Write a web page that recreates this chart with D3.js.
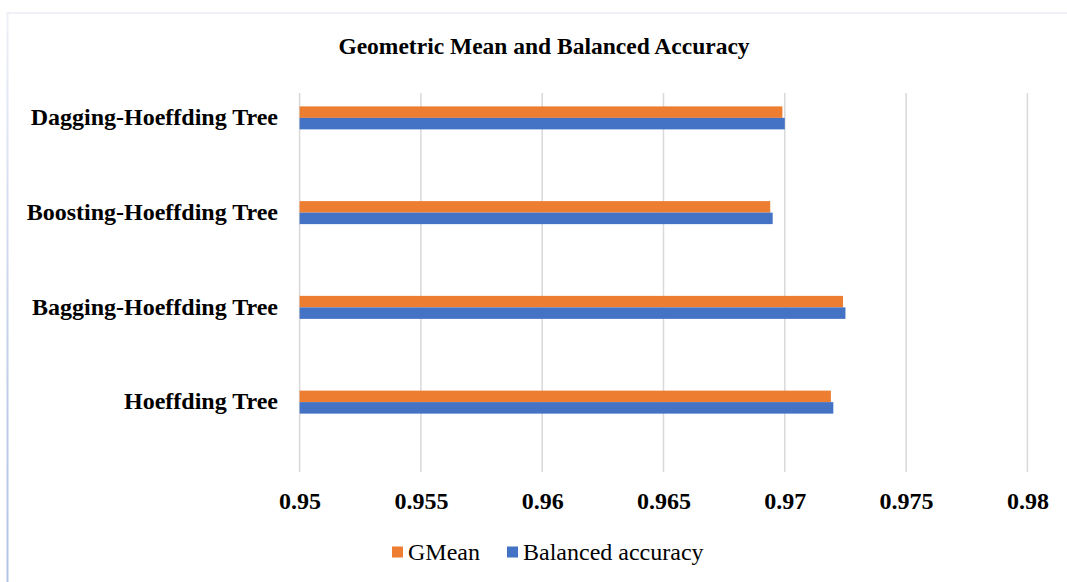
<!DOCTYPE html>
<html>
<head>
<meta charset="utf-8">
<script src="https://cdn.jsdelivr.net/npm/d3@7"></script>
<style>
  html, body { margin: 0; padding: 0; background: #ffffff; }
  svg { display: block; }
</style>
</head>
<body>
<script>
// Chart data
const categories = ["Dagging-Hoeffding Tree", "Boosting-Hoeffding Tree", "Bagging-Hoeffding Tree", "Hoeffding Tree"];
const gmean = [0.9699, 0.9694, 0.9724, 0.9719];
const balancedAccuracy = [0.9700, 0.9695, 0.9725, 0.9720];
const seriesNames = ["GMean", "Balanced accuracy"];
const seriesColors = ["#ED7D31", "#4472C4"];
const xTicks = [0.95, 0.955, 0.96, 0.965, 0.97, 0.975, 0.98];
const xTickLabels = ["0.95", "0.955", "0.96", "0.965", "0.97", "0.975", "0.98"];

const W = 1067, H = 582;
const serif = "'Liberation Serif', 'Times New Roman', serif";

const svg = d3.select("body").append("svg").attr("width", W).attr("height", H);

// Chart frame
const defs = svg.append("defs");
const grad = defs.append("linearGradient").attr("id", "frameLeft")
  .attr("x1", 0).attr("y1", 0).attr("x2", 0).attr("y2", 1);
grad.append("stop").attr("offset", "0%").attr("stop-color", "#eef0f8");
grad.append("stop").attr("offset", "60%").attr("stop-color", "#c3cfea");
grad.append("stop").attr("offset", "100%").attr("stop-color", "#b3c3e6");

svg.append("line").attr("x1", 7.5).attr("x2", W).attr("y1", 13).attr("y2", 13)
  .attr("stroke", "#eff0f8").attr("stroke-width", 2);
svg.append("rect").attr("x", 6.5).attr("y", 12).attr("width", 2).attr("height", H - 12)
  .attr("fill", "url(#frameLeft)");

// Scales
const x = d3.scaleLinear().domain([0.95, 0.98]).range([299.6, 1027.4]);
const y = d3.scaleBand().domain(categories).range([70.5, 449.5]);
const barH = 11.5;
const gridTop = 93, gridBottom = 472;

// Vertical gridlines
svg.append("g").selectAll("line").data(xTicks).join("line")
  .attr("x1", d => x(d)).attr("x2", d => x(d))
  .attr("y1", gridTop).attr("y2", gridBottom)
  .attr("stroke", "#d9d9d9").attr("stroke-width", 1.5);

// Bars
const series = [gmean, balancedAccuracy];
series.forEach((vals, si) => {
  svg.append("g").selectAll("rect").data(categories).join("rect")
    .attr("x", x(0.95))
    .attr("y", (c) => y(c) + y.bandwidth() / 2 - barH + si * barH)
    .attr("width", (c, i) => x(vals[i]) - x(0.95))
    .attr("height", barH)
    .attr("fill", seriesColors[si]);
});

// X axis tick labels
const xAxis = d3.axisBottom(x).tickValues(xTicks)
  .tickFormat((d, i) => xTickLabels[i]).tickSize(0).tickPadding(0);
const gx = svg.append("g").attr("transform", "translate(0, 492)").call(xAxis);
gx.select(".domain").remove();
gx.selectAll("text")
  .attr("font-family", serif).attr("font-weight", "bold").attr("font-size", 24)
  .attr("fill", "#000").attr("dy", "0.71em");

// Category labels
const yAxis = d3.axisLeft(y).tickSize(0).tickPadding(0);
const gy = svg.append("g").attr("transform", "translate(278, 0)").call(yAxis);
gy.select(".domain").remove();
gy.selectAll("text")
  .attr("font-family", serif).attr("font-weight", "bold").attr("font-size", 24)
  .attr("fill", "#000").attr("dy", "0.3em");

// Title
svg.append("text").attr("x", 544).attr("y", 54).attr("text-anchor", "middle")
  .attr("font-family", serif).attr("font-weight", "bold").attr("font-size", 23.5)
  .attr("fill", "#000").text("Geometric Mean and Balanced Accuracy");

// Legend
const legendItems = [{ name: seriesNames[0], color: seriesColors[0], x: 392 },
                     { name: seriesNames[1], color: seriesColors[1], x: 507 }];
const lg = svg.append("g");
legendItems.forEach(it => {
  lg.append("rect").attr("x", it.x).attr("y", 546.5).attr("width", 11).attr("height", 11)
    .attr("fill", it.color);
  lg.append("text").attr("x", it.x + 16).attr("y", 560)
    .attr("font-family", serif).attr("font-size", 24).attr("fill", "#000").text(it.name);
});
</script>
</body>
</html>
